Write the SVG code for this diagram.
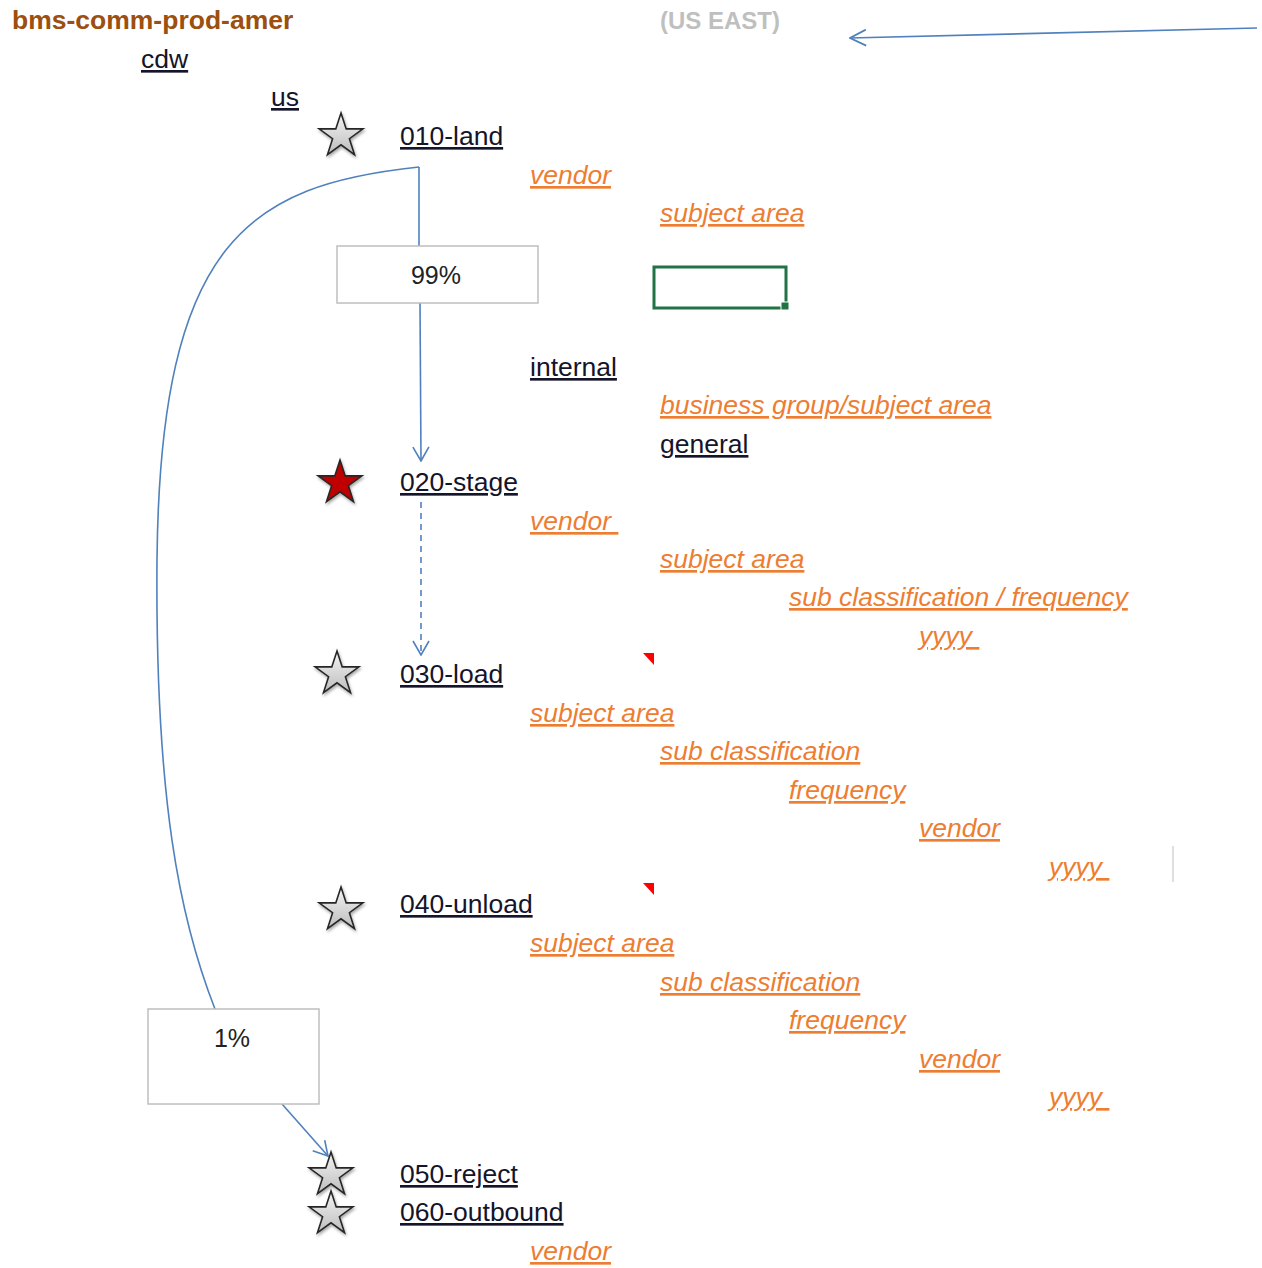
<svg xmlns="http://www.w3.org/2000/svg" width="1262" height="1268" viewBox="0 0 1262 1268">
  <style>
    text { font-family: "Liberation Sans", Arial, sans-serif; font-size: 26.5px; }
    .hdr { font-weight: bold; font-size: 26.5px; fill: #9c4f0f; }
    .region { font-weight: bold; font-size: 24px; fill: #bfbfbf; }
    .dir { fill: #14142a; text-decoration: underline; }
    .var { fill: #ed7d31; font-style: italic; text-decoration: underline; }
    .pct { fill: #222; font-size: 25px; text-anchor: middle; }
    .box { fill: #fff; stroke: #bfbfbf; stroke-width: 1.5; }
    .conn { fill: none; stroke: #4f81bd; stroke-width: 1.6; }
    .dash { stroke-dasharray: 6 5; }
    .star { stroke: #262626; stroke-width: 1.6; stroke-linejoin: miter; filter: url(#shadow); }
    .grey { fill: url(#starGrey); }
    .red { fill: #c00000; }
  </style>
  <defs>
    <marker id="arrow" viewBox="0 0 16 18" refX="15" refY="9" markerWidth="16" markerHeight="18" markerUnits="userSpaceOnUse" orient="auto">
      <path d="M1,1 L15,9 L1,17" fill="none" stroke="#4f81bd" stroke-width="1.6"/>
    </marker>
    <marker id="arrowBig" viewBox="0 0 18 18" refX="17" refY="9" markerWidth="18" markerHeight="18" markerUnits="userSpaceOnUse" orient="auto">
      <path d="M1,1 L17,9 L1,17" fill="none" stroke="#4f81bd" stroke-width="1.8"/>
    </marker>
    <linearGradient id="starGrey" x1="0" y1="0" x2="0" y2="1">
      <stop offset="0" stop-color="#f4f4f4"/>
      <stop offset="1" stop-color="#bdbdbd"/>
    </linearGradient>
    <filter id="shadow" x="-30%" y="-30%" width="160%" height="160%">
      <feDropShadow dx="1" dy="2" stdDeviation="1.5" flood-color="#000" flood-opacity="0.35"/>
    </filter>
    <!-- five-point star, outer radius 23 -->
    <path id="starShape" d="M0,-23 L5.2,-7.1 L21.9,-7.1 L8.4,2.7 L13.5,18.6 L0,8.8 L-13.5,18.6 L-8.4,2.7 L-21.9,-7.1 L-5.2,-7.1 Z"/>
  </defs>

  <rect width="1262" height="1268" fill="#fff"/>

  <!-- header -->
  <g id="header">
    <text class="hdr" x="12" y="29">bms-comm-prod-amer</text>
    <text class="region" x="660" y="29">(US EAST)</text>
  </g>

  <!-- connectors -->
  <g id="connectors">
    <line class="conn" x1="1257" y1="28" x2="850" y2="38" marker-end="url(#arrowBig)"/>
    <line class="conn" x1="419" y1="167" x2="419" y2="246"/>
    <line class="conn" x1="420" y1="303" x2="421" y2="461" marker-end="url(#arrow)"/>
    <line class="conn dash" x1="421" y1="502" x2="421" y2="655" marker-end="url(#arrow)"/>
    <path class="conn" d="M419,167 C 250,185 160,240 157,560 C 155,800 180,920 215,1009"/>
    <line class="conn" x1="282" y1="1104" x2="328" y2="1156" marker-end="url(#arrow)"/>
  </g>

  <!-- folder path -->
  <g id="n-cdw"><text class="dir" x="141" y="68">cdw</text></g>
  <g id="n-us"><text class="dir" x="271" y="106">us</text></g>

  <g id="n-010-land">
    <use href="#starShape" class="star grey" x="341" y="136"/>
    <text class="dir" x="400" y="145">010-land</text>
    <text class="var" x="530" y="184">vendor</text>
    <text class="var" x="660" y="222">subject area</text>
  </g>

  <g id="n-99">
    <rect class="box" x="337" y="246" width="201" height="57"/>
    <text class="pct" x="436" y="284">99%</text>
  </g>

  <g id="n-cell">
    <rect x="654" y="267" width="132" height="41" fill="none" stroke="#217346" stroke-width="3"/>
    <rect x="781" y="302" width="8" height="8" fill="#217346" stroke="#fff" stroke-width="1"/>
  </g>

  <g id="n-internal">
    <text class="dir" x="530" y="376">internal</text>
    <text class="var" x="660" y="414">business group/subject area</text>
    <text class="dir" x="660" y="453">general</text>
  </g>

  <g id="n-020-stage">
    <use href="#starShape" class="star red" x="340" y="483"/>
    <text class="dir" x="400" y="491">020-stage</text>
    <text class="var" x="530" y="530" xml:space="preserve">vendor </text>
    <text class="var" x="660" y="568">subject area</text>
    <text class="var" x="789" y="606">sub classification / frequency</text>
    <text class="var" x="919" y="645" xml:space="preserve">yyyy </text>
  </g>

  <g id="n-030-load">
    <path d="M643,653 L654,653 L654,665 Z" fill="#ff0000"/>
    <use href="#starShape" class="star grey" x="337" y="674"/>
    <text class="dir" x="400" y="683">030-load</text>
    <text class="var" x="530" y="722">subject area</text>
    <text class="var" x="660" y="760">sub classification</text>
    <text class="var" x="789" y="799">frequency</text>
    <text class="var" x="919" y="837">vendor</text>
    <text class="var" x="1049" y="876" xml:space="preserve">yyyy </text>
    <line x1="1173" y1="846" x2="1173" y2="882" stroke="#d4d4d4" stroke-width="1.5"/>
  </g>

  <g id="n-040-unload">
    <path d="M643,883 L654,883 L654,895 Z" fill="#ff0000"/>
    <use href="#starShape" class="star grey" x="341" y="910"/>
    <text class="dir" x="400" y="913">040-unload</text>
    <text class="var" x="530" y="952">subject area</text>
    <text class="var" x="660" y="991">sub classification</text>
    <text class="var" x="789" y="1029">frequency</text>
    <text class="var" x="919" y="1068">vendor</text>
    <text class="var" x="1049" y="1106" xml:space="preserve">yyyy </text>
  </g>

  <g id="n-1">
    <rect class="box" x="148" y="1009" width="171" height="95"/>
    <text class="pct" x="232" y="1047">1%</text>
  </g>

  <g id="n-050-reject">
    <use href="#starShape" class="star grey" x="331" y="1175"/>
    <text class="dir" x="400" y="1183">050-reject</text>
  </g>

  <g id="n-060-outbound">
    <use href="#starShape" class="star grey" x="331" y="1214"/>
    <text class="dir" x="400" y="1221">060-outbound</text>
    <text class="var" x="530" y="1260">vendor</text>
  </g>
</svg>
